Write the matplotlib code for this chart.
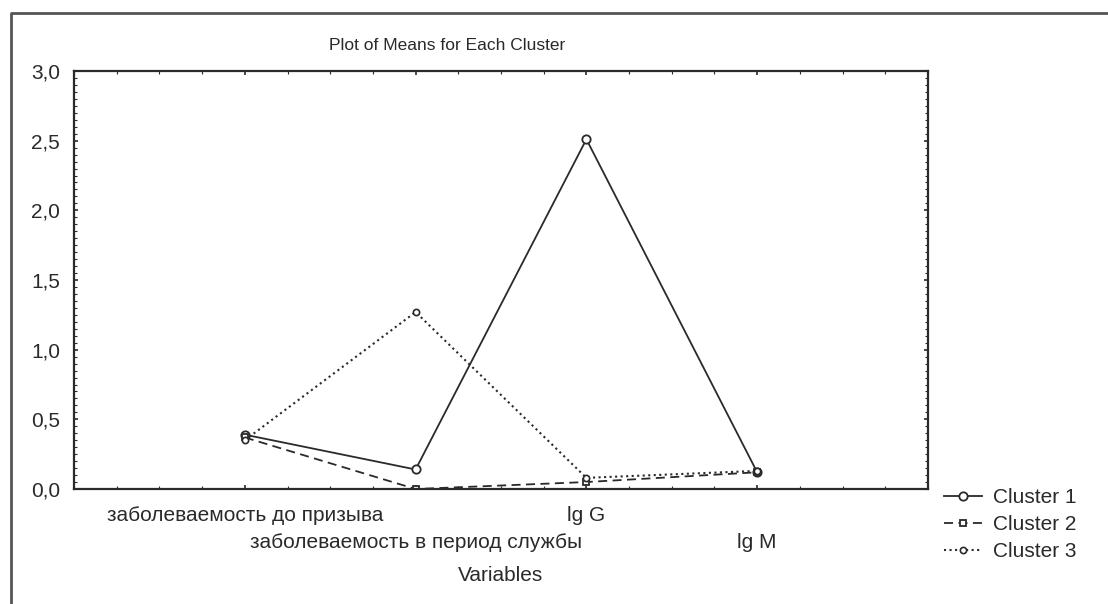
import matplotlib
matplotlib.use('Agg')
import matplotlib.pyplot as plt
import numpy as np
from matplotlib.lines import Line2D
from matplotlib.ticker import MultipleLocator, FuncFormatter

plt.rcParams['font.family'] = ['Liberation Sans', 'DejaVu Sans']

# Данные: средние по кластерам
variables = ['заболеваемость до призыва', 'заболеваемость в период службы', 'lg G', 'lg M']
cluster1 = [0.39, 0.14, 2.51, 0.12]
cluster2 = [0.37, 0.00, 0.05, 0.12]
cluster3 = [0.35, 1.27, 0.08, 0.13]

x = np.arange(1, len(variables) + 1)
ink = '#2a2a2a'

fig = plt.figure(figsize=(11.08, 6.04), dpi=100)
ax = fig.add_axes([74 / 1108, 1 - 489 / 604, 854 / 1108, 418 / 604])

ax.plot(x, cluster1, '-', color=ink, lw=1.3, marker='o', ms=6, mfc='white', mec=ink, mew=1.3, label='Cluster 1')
ax.plot(x, cluster2, '--', color=ink, lw=1.3, dashes=(5, 3), marker='s', ms=5, mfc='white', mec=ink, mew=1.3, label='Cluster 2')
ax.plot(x, cluster3, ':', color=ink, lw=1.5, marker='o', ms=4.5, mfc='white', mec=ink, mew=1.2, label='Cluster 3')

ax.set_xlim(0, 5)
ax.set_ylim(0, 3)

ax.set_xticks(x)
ax.set_xticklabels(variables, fontsize=15, color=ink)
ax.xaxis.set_minor_locator(MultipleLocator(0.25))
ax.yaxis.set_major_locator(MultipleLocator(0.5))
ax.yaxis.set_minor_locator(MultipleLocator(0.05))
ax.yaxis.set_major_formatter(FuncFormatter(lambda v, p: f'{v:.1f}'.replace('.', ',')))
ax.tick_params(axis='both', which='both', direction='in', top=True, right=True, color=ink)
ax.tick_params(axis='both', which='major', length=3, width=1.2)
ax.tick_params(axis='both', which='minor', length=2, width=0.8)
ax.tick_params(axis='x', which='major', pad=12)
ax.tick_params(axis='y', which='major', pad=10, labelsize=15, labelcolor=ink)

# подписи переменных в два ряда: каждая вторая ниже
for t in ax.xaxis.get_major_ticks()[1::2]:
    t.set_pad(12 + 20)

for s in ax.spines.values():
    s.set_linewidth(1.6)
    s.set_color(ink)

ax.set_xlabel('Variables', fontsize=15, color=ink, labelpad=10)
fig.text(447 / 1108, 1 - 45 / 604, 'Plot of Means for Each Cluster', ha='center', va='center', fontsize=12.5, color=ink)

fig.legend(loc='upper left', bbox_to_anchor=(936 / 1108, 1 - 480 / 604), frameon=False,
           fontsize=15, handlelength=1.8, handletextpad=0.55, labelspacing=0.38,
           borderaxespad=0, labelcolor=ink)

# Внешняя рамка
fig.add_artist(Line2D([11 / 1108, 11 / 1108, 1], [0, 1 - 13 / 604, 1 - 13 / 604],
                      transform=fig.transFigure, color='#555555', lw=2))

fig.savefig('out.png', dpi=100)
